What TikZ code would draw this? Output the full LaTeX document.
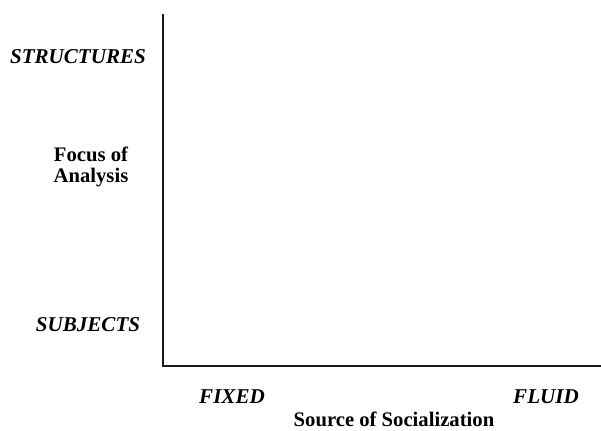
\documentclass[tikz,border=0pt]{standalone}
\usepackage{fontspec}
\setmainfont{Liberation Serif}
\usetikzlibrary{positioning}
\tikzstyle{axis} = [line width=1.5pt, black!90]
\tikzstyle{tick} = [font=\fontsize{15.8}{18}\selectfont\bfseries\itshape, inner sep=1pt]
\tikzstyle{title} = [font=\fontsize{15.5}{15.5}\selectfont\bfseries, align=center, inner sep=1pt]
\begin{document}
\begin{tikzpicture}[x=0.75pt, y=-0.75pt]
		\useasboundingbox (0,0) rectangle (601,430);
		\coordinate (top) at (163,14);
		\coordinate (origin) at (163,366);
		\coordinate (right) at (601,366);
		% Axes
		\draw[axis] (top) -- (origin) -- (right);
		% Vertical axis labels
		\node[tick, name=structures] at (78,57) {STRUCTURES};
		\node[title, name=focus] at (91,167) {Focus of\\Analysis};
		\node[tick, name=subjects] at (88,325) {SUBJECTS};
		% Horizontal axis labels
		\node[tick, name=fixed] at (232,397) {FIXED};
		\node[tick, name=fluid] at (546,397) {FLUID};
		\node[title, name=source] at (394,419) {Source of Socialization};
\end{tikzpicture}
\end{document}
